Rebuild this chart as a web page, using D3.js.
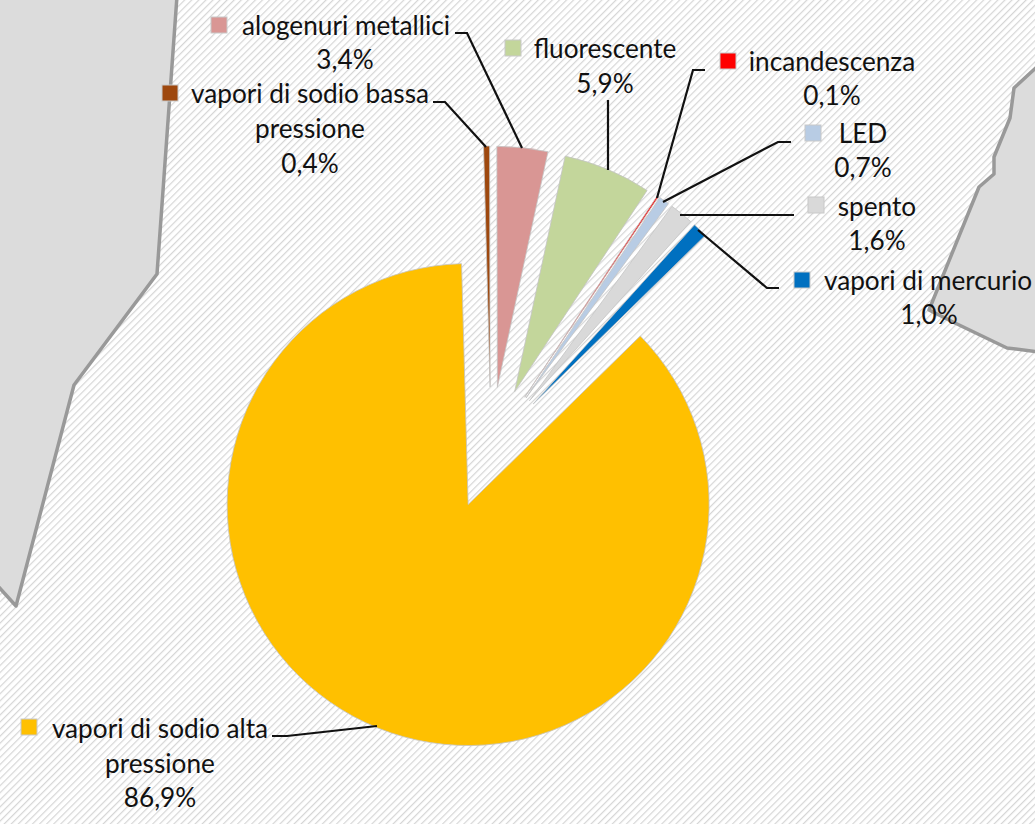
<!DOCTYPE html>
<html>
<head>
<meta charset="utf-8">
<script src="https://cdn.jsdelivr.net/npm/d3@7"></script>
<style>
  html, body { margin: 0; padding: 0; background: #fff; }
  svg { display: block; }
  text { font-family: Lato, "Open Sans", sans-serif; font-size: 26.2px; fill: #111; }
</style>
</head>
<body>
<div id="grafica"></div>
<script>
// Dati
const categorie = ["vapori di sodio alta pressione", "vapori di sodio bassa pressione", "alogenuri metallici", "fluorescente", "incandescenza", "LED", "spento", "vapori di mercurio"];
const valori = [86.9, 0.4, 3.4, 5.9, 0.1, 0.7, 1.6, 1.0];
const etichette = ["86,9%", "0,4%", "3,4%", "5,9%", "0,1%", "0,7%", "1,6%", "1,0%"];
const colori = ["#FFC000", "#9E480E", "#D99694", "#C3D69B", "#FF0000", "#B8CCE4", "#D9D9D9", "#0070C0"];

// Posizione delle etichette (key = quadratino, righe = [testo, centro x, linea base])
const layoutEtichette = [
  {key: [21, 719], righe: [["vapori di sodio alta", 160, 738], ["pressione", 160, 773], ["86,9%", 160, 807]], guida: [[272, 736], [287, 736], [377, 726]]},
  {key: [162, 85], righe: [["vapori di sodio bassa", 310, 103], ["pressione", 310, 138], ["0,4%", 310, 173]], guida: [[433, 102], [445, 102], [486, 147]]},
  {key: [211, 17], righe: [["alogenuri metallici", 346, 35], ["3,4%", 345, 69]], guida: [[455, 33], [467, 33], [522, 148]]},
  {key: [505, 40], righe: [["fluorescente", 605, 58], ["5,9%", 605, 93]], guida: [[608, 100], [608, 170]]},
  {key: [720, 53], righe: [["incandescenza", 832, 71], ["0,1%", 832, 105]], guida: [[705, 70], [693, 70], [657, 198]]},
  {key: [805, 125], righe: [["LED", 863, 143], ["0,7%", 863, 177]], guida: [[791, 142], [778, 142], [663, 202]]},
  {key: [808, 197], righe: [["spento", 877, 216], ["1,6%", 877, 250]], guida: [[794, 215], [680, 215]]},
  {key: [794, 272], righe: [["vapori di mercurio", 928, 290], ["1,0%", 929, 324]], guida: [[779, 288], [767, 288], [698, 230]]}
];

// Sagome della mappa sullo sfondo
const mappaSinistra = [[177, -4], [157, 274], [74, 385], [16, 606], [-4, 584], [-4, -4]];
const mappaDestra = [[1040, 64], [1014, 88], [1010, 118], [994, 157], [994, 174], [979, 187], [929, 310], [955, 323], [1007, 348], [1040, 352]];

const width = 1035;
const height = 824;
const centro = [491, 448];
const raggio = 241;
const esplosione = 61;

const svg = d3.select("#grafica")
  .append("svg")
  .attr("width", width)
  .attr("height", height);

// Tratteggio diagonale dello sfondo
const pattern = svg.append("defs")
  .append("pattern")
  .attr("id", "tratteggio")
  .attr("patternUnits", "userSpaceOnUse")
  .attr("width", 5)
  .attr("height", 5)
  .attr("patternTransform", "rotate(45)");
pattern.append("rect").attr("width", 5).attr("height", 5).attr("fill", "#fff");
pattern.append("rect").attr("width", 1.2).attr("height", 5).attr("fill", "#d6d6d6");

svg.append("rect")
  .attr("width", width)
  .attr("height", height)
  .attr("fill", "url(#tratteggio)");

const linea = d3.line();
const mappa = svg.append("g");
[mappaSinistra, mappaDestra].forEach((p) => {
  mappa.append("path")
    .attr("d", linea(p) + "Z")
    .attr("fill", "#dcdcdc")
    .attr("stroke", "#999")
    .attr("stroke-width", 3.5)
    .attr("stroke-linejoin", "round");
});

// Torta con tutte le fette esplose
const inizio = 45.6 * Math.PI / 180;
const pie = d3.pie()
  .sort(null)
  .startAngle(inizio)
  .endAngle(inizio + 2 * Math.PI);
const arc = d3.arc().innerRadius(0).outerRadius(raggio);
const fette = pie(valori);

svg.append("g")
  .attr("transform", `translate(${centro[0]}, ${centro[1]})`)
  .selectAll("path")
  .data(fette)
  .join("path")
  .attr("d", arc)
  .attr("fill", (d, i) => colori[i])
  .attr("stroke", "#c4c4c4")
  .attr("stroke-width", 0.8)
  .attr("transform", (d) => {
    const medio = (d.startAngle + d.endAngle) / 2;
    return `translate(${esplosione * Math.sin(medio)}, ${-esplosione * Math.cos(medio)})`;
  });

// Linee guida
svg.append("g")
  .selectAll("path")
  .data(layoutEtichette)
  .join("path")
  .attr("d", (d) => linea(d.guida))
  .attr("fill", "none")
  .attr("stroke", "#111")
  .attr("stroke-width", 2.2);

// Etichette
const gruppi = svg.append("g")
  .selectAll("g")
  .data(layoutEtichette)
  .join("g");

gruppi.append("rect")
  .attr("x", (d) => d.key[0])
  .attr("y", (d) => d.key[1])
  .attr("width", 16)
  .attr("height", 16)
  .attr("fill", (d, i) => colori[i])
  .attr("stroke", "#c8c8c8")
  .attr("stroke-width", 1);

gruppi.selectAll("text")
  .data((d) => d.righe)
  .join("text")
  .attr("x", (r) => r[1])
  .attr("y", (r) => r[2])
  .attr("text-anchor", "middle")
  .text((r) => r[0]);
</script>
</body>
</html>
